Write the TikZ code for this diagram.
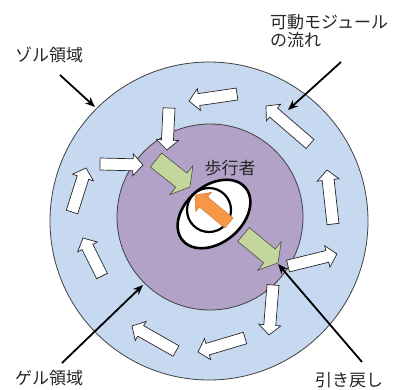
\documentclass[tikz,border=0pt]{standalone}
\usepackage{fontspec}
\newfontfamily\jp{Noto Sans CJK JP}
\usetikzlibrary{arrows.meta,calc,shapes.geometric}
\definecolor{ringblue}{RGB}{198,217,241}
\definecolor{corepurple}{RGB}{179,162,199}
\definecolor{pullgreen}{RGB}{195,214,155}
\definecolor{walkorange}{RGB}{247,150,70}
\newcommand{\blockarr}[8]{%
  \pgfmathsetmacro{\ba}{atan2(-(#4-#2),(#3-#1))}%
  \pgfmathsetmacro{\bl}{veclen((#3-#1),(#4-#2))}%
  \pgfmathsetmacro{\bs}{\bl-#7}%
  \draw[#8, shift={(#1,#2)}, rotate=\ba] (0,-#5) -- (\bs,-#5) -- (\bs,-#6) -- (\bl,0) -- (\bs,#6) -- (\bs,#5) -- (0,#5) -- cycle;
}
\tikzset{
  flowarr/.style={fill=white, draw=black!85, line width=0.7pt, line join=miter},
  pullarr/.style={fill=pullgreen, draw=black!70, line width=0.6pt},
  walkarr/.style={fill=walkorange, draw=walkorange!80!black, line width=0.4pt},
  labtext/.style={font=\jp\fontsize{17}{18}\selectfont, inner sep=0pt, text=black!85},
  labarrow/.style={draw=black, line width=1.8pt, -{Stealth[length=10pt,width=8pt]}},
  zone/.style={circle, draw=black!75, line width=0.8pt, inner sep=0pt},
}
\begin{document}
\begin{tikzpicture}[x=1pt,y=-1pt]
\useasboundingbox (0,0) rectangle (395,389);
\fill[white] (0,0) rectangle (395,389);
% zones
\node[zone, fill=ringblue, minimum size=318pt] (sol) at (209,221) {};
\node[zone, fill=corepurple, minimum size=186pt] (gel) at (210,217) {};
% flow arrows in the sol ring
\blockarr{237}{94}{189}{101}{6}{11}{10}{flowarr}
\blockarr{310}{144}{266}{106}{6}{11}{10}{flowarr}
\blockarr{333}{224}{327}{170}{6}{11}{10}{flowarr}
\blockarr{288}{266}{337}{254}{6}{11}{10}{flowarr}
\blockarr{273}{285}{269}{335}{6}{11}{10}{flowarr}
\blockarr{245}{338}{198}{352}{6}{11}{10}{flowarr}
\blockarr{176}{351}{132}{326}{6}{11}{10}{flowarr}
\blockarr{102}{276}{83}{238}{6}{11}{10}{flowarr}
\blockarr{72}{212}{86}{168}{6}{11}{10}{flowarr}
\blockarr{100}{164}{143}{165}{6}{11}{10}{flowarr}
\blockarr{169}{108}{167}{150}{6}{11}{10}{flowarr}
% pull-back arrows
\blockarr{156}{160}{190}{187}{9}{18.5}{11}{pullarr}
\blockarr{243.5}{234.5}{278}{263}{9}{18.5}{11}{pullarr}
% walker
\node[ellipse, draw=black, line width=2.6pt, fill=white, minimum width=82pt, minimum height=57pt, inner sep=0pt, rotate=40] (walker) at (214,214) {};
\node[circle, draw=black, line width=2.2pt, fill=white, minimum size=44pt, inner sep=0pt] (head) at (209,210) {};
\blockarr{229}{223}{195}{195}{6.5}{12.5}{11}{walkarr}
\node[labtext] (walktxt) at (230,168) {歩行者};
% labels
\node[labtext] (zol) at (49,55) {ゾル領域};
\node[labtext, align=left, anchor=west, font=\jp\fontsize{17}{18}\selectfont] (flow) at (270,31) {可動モジュール\\の流れ};
\node[labtext] (gelt) at (49,378) {ゲル領域};
\node[labtext] (pull) at (349,380) {引き戻し};
% label arrows
\coordinate (zolS) at (60,75);   \coordinate (zolT) at (95,107);
\coordinate (flowS) at (341,62); \coordinate (flowT) at (288,110);
\coordinate (gelS) at (62,363);  \coordinate (gelT) at (143,285);
\coordinate (pullS) at (362,362);\coordinate (pullT) at (278,264);
\draw[labarrow] (zolS) -- (zolT);
\draw[labarrow] (flowS) -- (flowT);
\draw[labarrow] (gelS) -- (gelT);
\draw[labarrow] (pullS) -- (pullT);
\end{tikzpicture}
\end{document}
